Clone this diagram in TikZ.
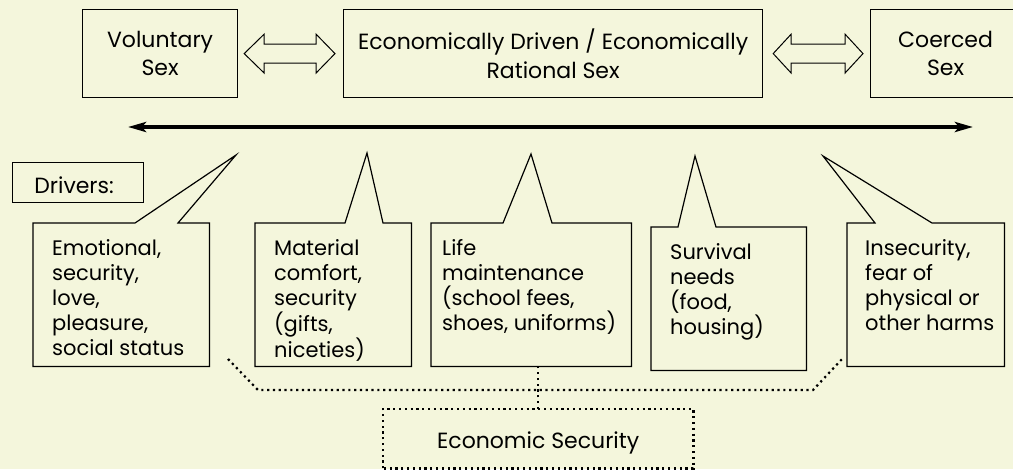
\documentclass[tikz,border=0pt]{standalone}
\usepackage{fontspec}
\setmainfont{Poppins}
\usetikzlibrary{calc,arrows.meta}
\definecolor{paper}{RGB}{244,246,220}
\begin{document}
\begin{tikzpicture}[x=1pt,y=-1pt,
  frame/.style={draw=black,line width=1.2pt},
  topbox/.style={frame,align=center,inner sep=0pt,anchor=north west,
    font=\fontsize{22}{28.5}\selectfont},
  cbox/.style={inner sep=0pt,anchor=north west,minimum height=143pt},
  ctext/.style={align=left,inner sep=0pt,anchor=north west,
    font=\fontsize{21}{25}\selectfont},
  label/.style={inner sep=0pt,font=\fontsize{22}{26}\selectfont},
  hollow/.style={draw=black,line width=1pt,fill=paper},
  axis/.style={line width=3.6pt,{Stealth[length=18pt,width=10pt,inset=4pt]}-{Stealth[length=18pt,width=10pt,inset=4pt]}},
  dots/.style={line width=2.2pt,dash pattern=on 2.2pt off 3.6pt}]
% paper
\fill[paper] (0,0) rectangle (1013,469);
\useasboundingbox (0,0) rectangle (1013,469);

% the three kinds of sex along the scale
\node[topbox,minimum width=155pt,minimum height=88pt] (vol) at (82,9) {Voluntary\\Sex};
\node[topbox,minimum width=419pt,minimum height=88pt] (eco) at (343,9) {Economically Driven / Economically\\Rational Sex};
\node[topbox,minimum width=150pt,minimum height=88pt] (coe) at (870,9) {Coerced\\Sex};

% hollow double arrows between the boxes
\coordinate (a1) at ($(vol.east)+(6,0)$);
\coordinate (a2) at ($(eco.west)+(-8,0)$);
\draw[hollow] (a1) -- ++(20,-19.5) -- ++(0,10) -- ($(a2)+(-19,-9.5)$) -- ++(0,-10)
  -- (a2) -- ++(-19,19.5) -- ++(0,-10) -- ($(a1)+(20,9.5)$) -- ++(0,10) -- cycle;
\coordinate (b1) at ($(eco.east)+(10,0)$);
\coordinate (b2) at ($(coe.west)+(-7,0)$);
\draw[hollow] (b1) -- ++(18,-19.5) -- ++(0,10) -- ($(b2)+(-18,-9.5)$) -- ++(0,-10)
  -- (b2) -- ++(-18,19.5) -- ++(0,-10) -- ($(b1)+(18,9.5)$) -- ++(0,10) -- cycle;

% the scale
\coordinate (axL) at (128,127);
\coordinate (axR) at (973,127);
\draw[axis] (axL) -- (axR);

% label
\node[frame,anchor=north west,minimum width=131pt,minimum height=40pt,inner sep=0pt] (drv) at (12,162) {};
\node[label] (drvT) at ($(drv.center)+(-4,3)$) {Drivers:};

% callout boxes
\node[cbox,minimum width=176pt] (emo) at (33,223) {};
\node[cbox,minimum width=156pt] (mat) at (255,223) {};
\node[cbox,minimum width=200pt] (lif) at (431,223) {};
\node[cbox,minimum width=155pt] (sur) at (651,227) {};
\node[cbox,minimum width=157pt] (ins) at (847,223) {};

\coordinate (pE) at (236,155);
\coordinate (pM) at (367,153);
\coordinate (pL) at (531,154);
\coordinate (pS) at (695,156);
\coordinate (pI) at (823,156);

\draw[frame] (emo.north west) -- ++(102,0) -- (pE) -- ($(emo.north west)+(145,0)$)
  -- (emo.north east) -- (emo.south east) -- (emo.south west) -- cycle;
\draw[frame] (mat.north west) -- ++(90,0) -- (pM) -- ($(mat.north west)+(128,0)$)
  -- (mat.north east) -- (mat.south east) -- (mat.south west) -- cycle;
\draw[frame] (lif.north west) -- ++(72,0) -- (pL) -- ($(lif.north west)+(121,0)$)
  -- (lif.north east) -- (lif.south east) -- (lif.south west) -- cycle;
\draw[frame] (sur.north west) -- ++(27,0) -- (pS) -- ($(sur.north west)+(65,0)$)
  -- (sur.north east) -- (sur.south east) -- (sur.south west) -- cycle;
\draw[frame] (ins.north west) -- ++(28,0) -- (pI) -- ($(ins.north west)+(85,0)$)
  -- (ins.north east) -- (ins.south east) -- (ins.south west) -- cycle;

\node[ctext] (emoT) at ($(emo.north west)+(19,16)$) {Emotional,\\security,\\love,\\pleasure,\\social status};
\node[ctext] (matT) at ($(mat.north west)+(19,16)$) {Material\\comfort,\\security\\(gifts,\\niceties)};
\node[ctext] (lifT) at ($(lif.north west)+(11,16)$) {Life\\maintenance\\(school fees,\\shoes, uniforms)};
\node[ctext] (surT) at ($(sur.north west)+(19,16)$) {Survival\\needs\\(food,\\housing)};
\node[ctext] (insT) at ($(ins.north west)+(18,16)$) {Insecurity,\\fear of\\physical or\\other harms};

% economic security
\node[anchor=north west,minimum width=310pt,minimum height=59pt,inner sep=0pt] (sec) at (383,409) {};
\draw[dots] (sec.south west) -- (sec.north west) -- (sec.north east) -- (sec.south east) -- cycle;
\node[label] (secT) at ($(sec.center)+(0,4)$) {Economic Security};

\coordinate (brL) at (228,359);
\coordinate (brR) at (843,358);
\draw[dots] (brL) -- (258,390) -- (813,390) -- (brR);
\draw[dots] (sec.north) -- (sec.north |- lif.south);
\end{tikzpicture}
\end{document}
